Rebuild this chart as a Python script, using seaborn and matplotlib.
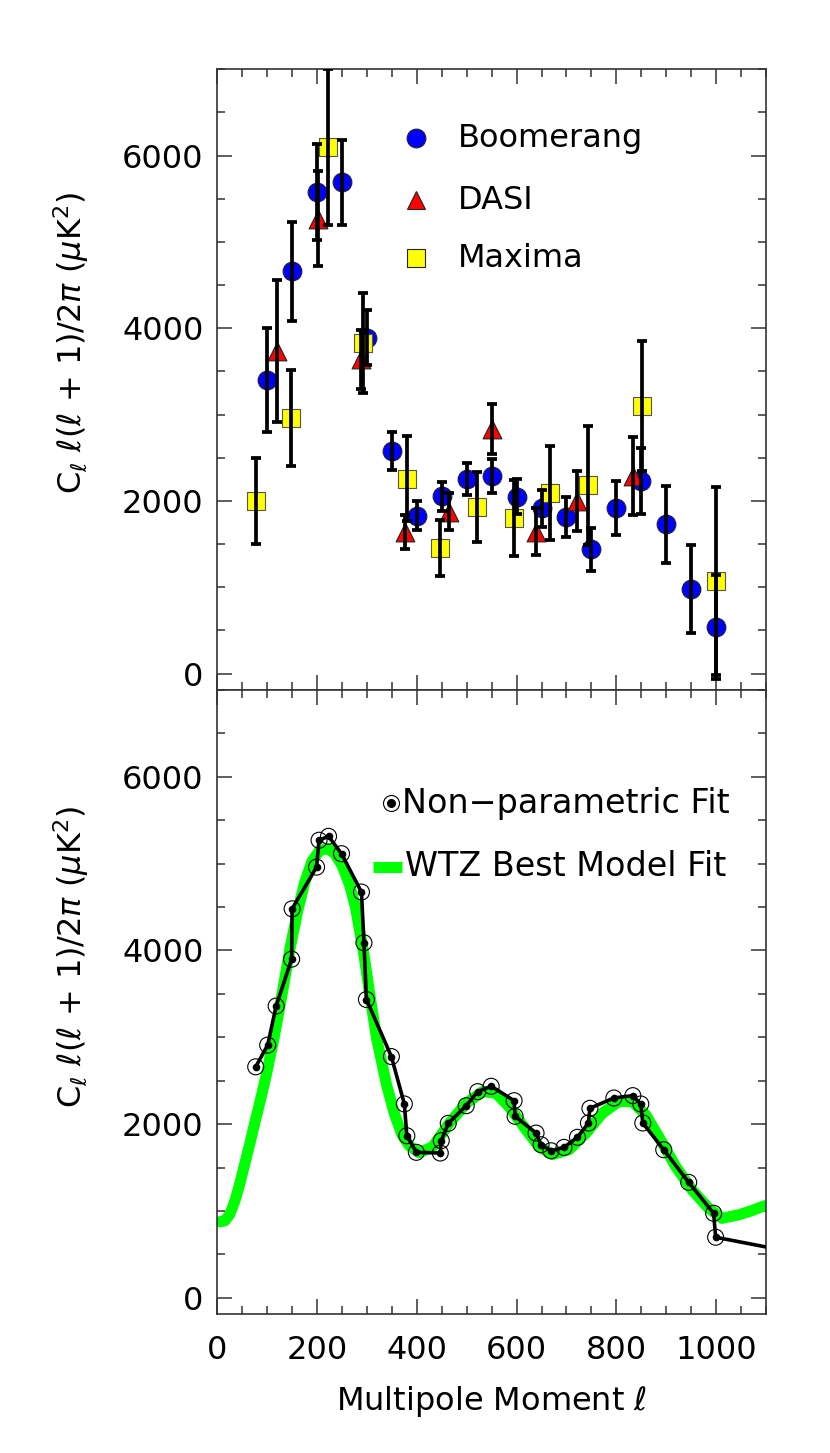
import numpy as np
import pandas as pd
import matplotlib
matplotlib.use("Agg")
import matplotlib.pyplot as plt
import seaborn as sns

# ---------------- data ----------------
boom_ell = [100, 150, 200, 250, 300, 350, 400, 450, 500, 550, 600, 650, 700, 750, 800, 850, 900, 950, 1000]
boom_val = [3400, 4660, 5580, 5690, 3890, 2580, 1830, 2055, 2255, 2285, 2050, 1915, 1815, 1440, 1915, 2230, 1730, 980, 540]
boom_err = [600, 575, 560, 490, 320, 220, 165, 170, 188, 197, 200, 215, 228, 248, 313, 380, 443, 508, 600]

dasi_ell = [119, 201, 288, 376, 464, 551, 638, 722, 833]
dasi_val = [3740, 5270, 3640, 1640, 1875, 2830, 1645, 2000, 2290]
dasi_err = [820, 550, 345, 195, 215, 290, 270, 350, 456]

max_ell = [77, 147, 222, 292, 380, 447, 521, 594, 667, 743, 852, 999]
max_val = [2000, 2960, 6100, 3830, 2260, 1460, 1930, 1805, 2095, 2180, 3100, 1075]
max_err = [500, 560, 900, 580, 490, 325, 410, 440, 545, 690, 750, 1090]

np_ell = [77, 101, 118, 149, 150, 199, 204, 223, 249, 289, 294, 299, 349, 375, 380, 399, 447, 449,
          463, 499, 522, 549, 595, 597, 639, 649, 669, 695, 722, 744, 747, 795, 833, 849, 853, 895,
          945, 995, 999, 1100]
np_val = [2660, 2910, 3360, 3900, 4480, 4960, 5270, 5315, 5115, 4673, 4089, 3435, 2778, 2232, 1866, 1675,
          1667, 1809, 2009, 2212, 2374, 2436, 2270, 2090, 1897, 1763, 1693, 1732, 1848, 2013, 2182, 2301,
          2328, 2232, 2013, 1705, 1329, 973, 697, 585]
np_has_marker = [True] * 39 + [False]

wtz_ell = [5, 15, 25, 35, 45, 55, 65, 75, 87, 98, 114, 130, 145, 161, 175, 190, 205, 221, 235, 250,
           265, 277, 294, 305, 319, 339, 355, 370, 385, 405, 432, 465, 499, 532, 559, 585, 619, 645,
           672, 705, 739, 772, 805, 832, 859, 885, 919, 952, 985, 1012, 1045, 1070, 1097]
wtz_val = [875, 885, 960, 1110, 1310, 1540, 1770, 2010, 2290, 2560, 3000, 3500, 4000, 4450, 4780, 5030,
           5150, 5175, 5120, 4980, 4760, 4500, 3950, 3520, 3000, 2460, 2120, 1880, 1750, 1670, 1740, 2010,
           2240, 2375, 2355, 2200, 1935, 1740, 1650, 1705, 1895, 2125, 2260, 2260, 2105, 1855, 1510, 1240,
           1030, 915, 955, 1000, 1060]

y_ticks = [0, 2000, 4000, 6000]
x_ticks = [0, 200, 400, 600, 800, 1000]

# ---------------- style ----------------
sns.set_theme(style="ticks")
plt.rcParams['font.family'] = ['DejaVu Sans']
plt.rcParams['mathtext.fontset'] = 'dejavusans'
plt.rcParams['text.color'] = 'black'
plt.rcParams['axes.labelcolor'] = 'black'
FS = 23
AXC = '#333333'
YLAB = r'C$_\ell$ $\ell$($\ell$ + 1)/2$\pi$ ($\mu$K$^2$)'

fig = plt.figure(figsize=(8.3, 14.53), dpi=100)
ax1 = fig.add_axes([0.2618, 0.5251, 0.6611, 0.4272])
ax2 = fig.add_axes([0.2618, 0.0955, 0.6611, 0.4296])

for ax in (ax1, ax2):
    ax.set_xlim(0, 1100)
    ax.set_ylim(-190, 7000)
    ax.set_xticks(x_ticks)
    ax.set_xticks(np.arange(0, 1101, 50), minor=True)
    ax.set_yticks(y_ticks)
    ax.set_yticks(np.arange(0, 7001, 500), minor=True)
    ax.tick_params(which='both', direction='in', top=True, right=True, color=AXC, width=1.1)
    ax.tick_params(which='major', length=11)
    ax.tick_params(which='minor', length=6)
    ax.tick_params(axis='y', labelsize=FS, pad=10, labelcolor='black')
    ax.tick_params(axis='x', labelsize=FS, pad=15, labelcolor='black')
    for s in ax.spines.values():
        s.set_color(AXC)
        s.set_linewidth(1.2)

# ---------------- top panel ----------------
dfb = pd.DataFrame({'ell': boom_ell, 'val': boom_val})
dfd = pd.DataFrame({'ell': dasi_ell, 'val': dasi_val})
dfm = pd.DataFrame({'ell': max_ell, 'val': max_val})

MS = 13.5
sns.scatterplot(data=dfb, x='ell', y='val', ax=ax1, marker='o', s=MS**2, color='#0000ff',
                edgecolor='#222222', linewidth=0.8, zorder=2, legend=False)
sns.scatterplot(data=dfd, x='ell', y='val', ax=ax1, marker='^', s=MS**2, color='#ff0000',
                edgecolor='#222222', linewidth=0.8, zorder=2, legend=False)
sns.scatterplot(data=dfm, x='ell', y='val', ax=ax1, marker='s', s=(MS*0.95)**2, color='#ffff00',
                edgecolor='#555555', linewidth=0.8, zorder=2, legend=False)
for e, v, er in [(boom_ell, boom_val, boom_err), (dasi_ell, dasi_val, dasi_err), (max_ell, max_val, max_err)]:
    ax1.errorbar(e, v, yerr=er, fmt='none', ecolor='black', elinewidth=2.7, capsize=3.6,
                 capthick=2.7, zorder=3)

# legend (top)
leg_items = [('o', '#0000ff', 'Boomerang', 0.889), ('^', '#ff0000', 'DASI', 0.789), ('s', '#ffff00', 'Maxima', 0.696)]
for mk, col, lab, yy in leg_items:
    ax1.plot([0.363], [yy], marker=mk, markersize=MS, color=col, markeredgecolor='#222222',
             markeredgewidth=0.8, linestyle='none', transform=ax1.transAxes, clip_on=False)
    ax1.text(0.439, yy, lab, transform=ax1.transAxes, fontsize=FS, va='center', ha='left')

# ---------------- bottom panel ----------------
dfw = pd.DataFrame({'ell': wtz_ell, 'val': wtz_val})
sns.lineplot(data=dfw, x='ell', y='val', ax=ax2, color='#00ff00', linewidth=8, sort=False,
             estimator=None, zorder=2)
dfn = pd.DataFrame({'ell': np_ell, 'val': np_val})
sns.lineplot(data=dfn, x='ell', y='val', ax=ax2, color='black', linewidth=2.6, sort=False,
             estimator=None, zorder=3)
dfn_m = dfn[np_has_marker]
sns.scatterplot(data=dfn_m, x='ell', y='val', ax=ax2, marker='o', s=11.5**2, facecolor='none',
                edgecolor='black', linewidth=0.8, zorder=4, legend=False)
sns.scatterplot(data=dfn_m, x='ell', y='val', ax=ax2, marker='o', s=5.5**2, color='black',
                linewidth=0, zorder=5, legend=False)

# legend (bottom)
ax2.plot([0.316], [0.8185], marker='o', markersize=11.5, markerfacecolor='none', markeredgecolor='black',
         markeredgewidth=0.8, linestyle='none', transform=ax2.transAxes)
ax2.plot([0.316], [0.8185], marker='o', markersize=5.5, color='black', linestyle='none',
         transform=ax2.transAxes)
ax2.text(0.336, 0.8185, 'Non\u2212parametric Fit', transform=ax2.transAxes, fontsize=24, va='center', ha='left')
ax2.plot([0.284, 0.336], [0.717, 0.717], color='#00ff00', linewidth=8, solid_capstyle='butt',
         transform=ax2.transAxes)
ax2.text(0.342, 0.717, 'WTZ Best Model Fit', transform=ax2.transAxes, fontsize=24, va='center', ha='left')

# labels
for ax, ly in ((ax1, 0.559), (ax2, 0.572)):
    ax.set_ylabel(YLAB, fontsize=FS)
    ax.yaxis.set_label_coords(-0.23, ly)
    ax.set_xlabel('')
ax1.tick_params(axis='x', labelbottom=False)
ax2.set_xlabel(r'Multipole Moment $\ell$', fontsize=FS)
ax2.xaxis.set_label_coords(0.5, -0.112)

fig.savefig('out.png', dpi=100)
